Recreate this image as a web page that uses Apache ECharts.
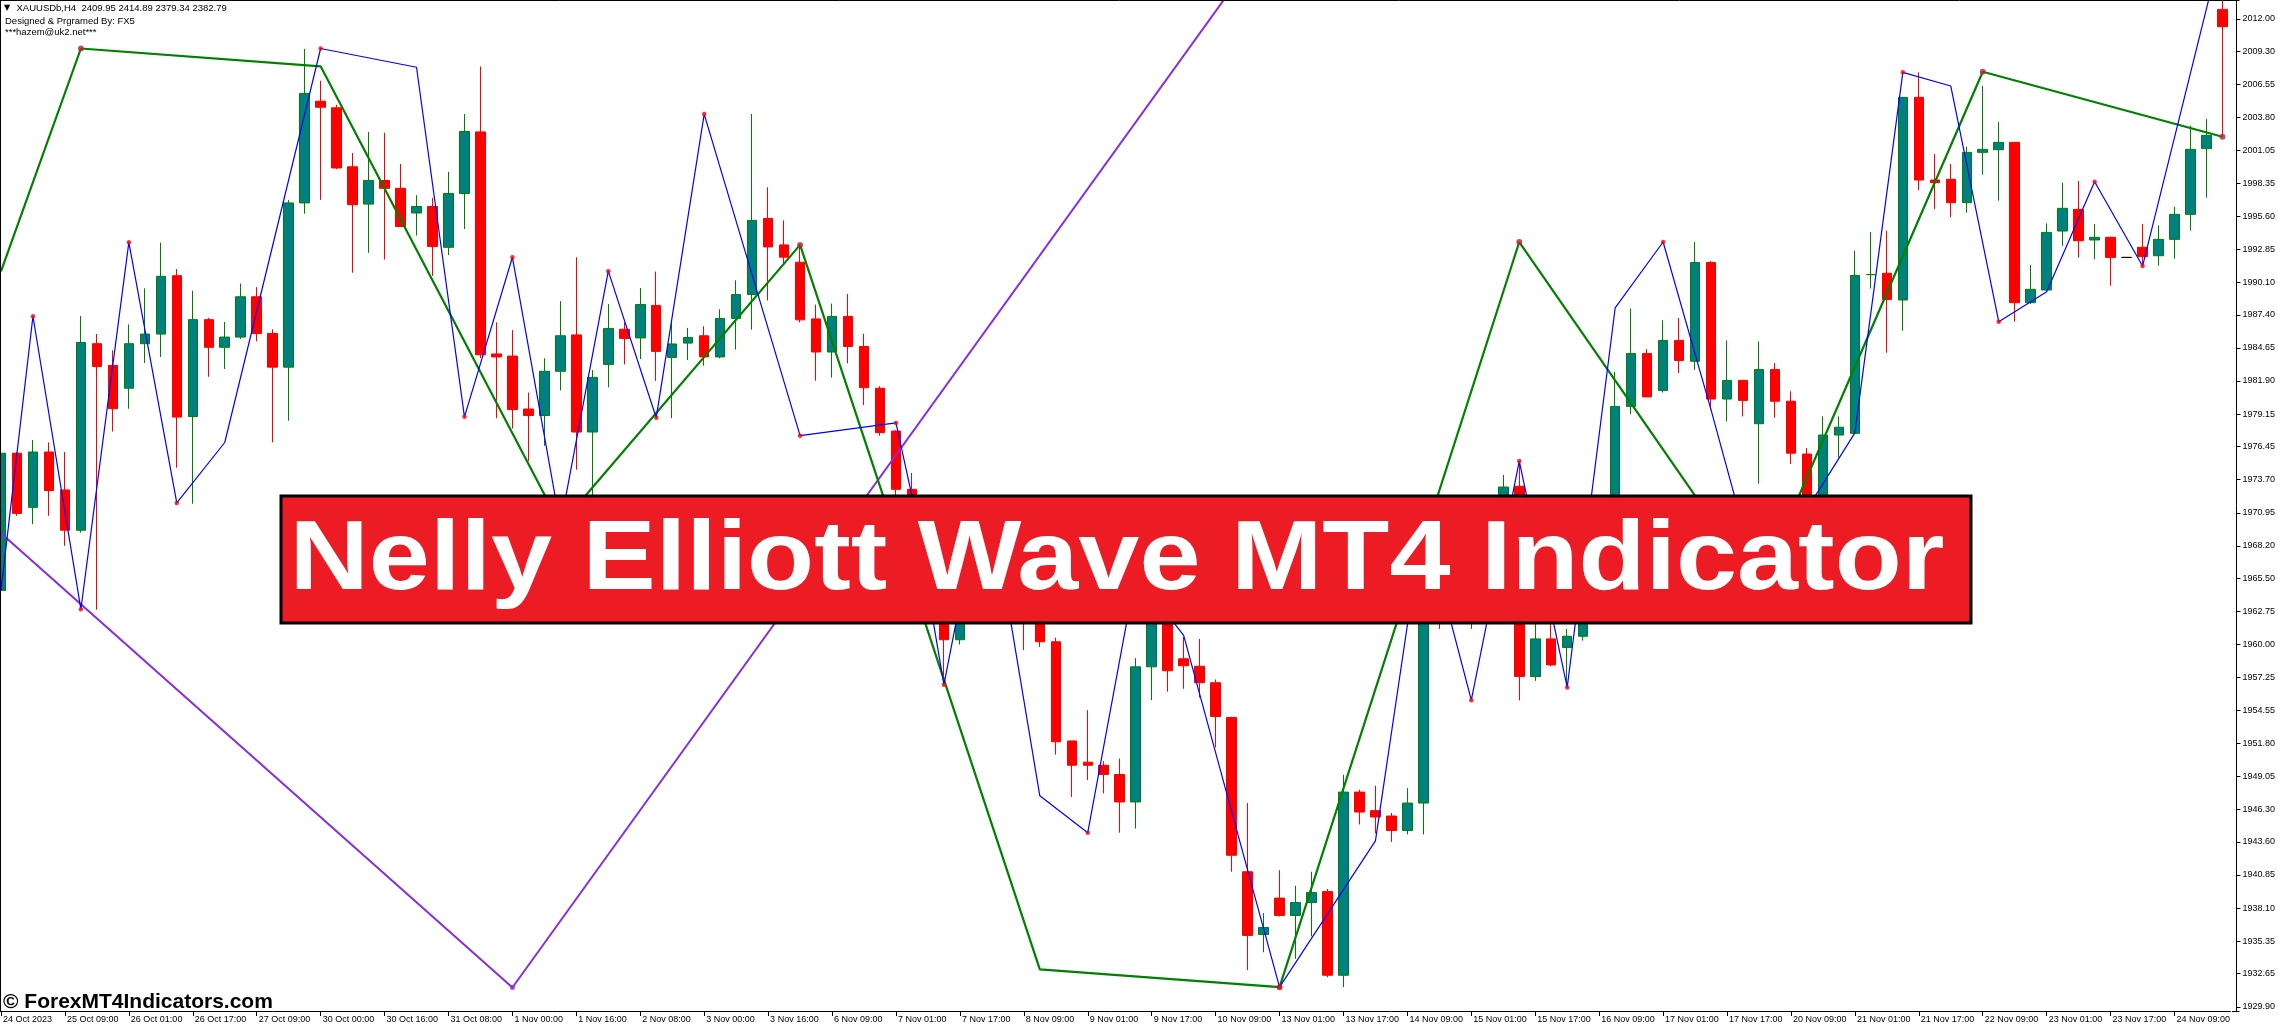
<!DOCTYPE html>
<html><head><meta charset="utf-8">
<script src="https://cdn.jsdelivr.net/npm/echarts@6/dist/echarts.min.js"></script>
<style>html,body{margin:0;padding:0;background:#fff;overflow:hidden;width:2278px;height:1027px;position:relative}#c{position:absolute;left:-7px;top:0;width:2285px;height:1027px}</style>
</head><body><div id="c"></div>
<script>
// ---------- data ----------
const xTickLabels = ['24 Oct 2023','25 Oct 09:00','26 Oct 01:00','26 Oct 17:00','27 Oct 09:00','30 Oct 00:00','30 Oct 16:00','31 Oct 08:00','1 Nov 00:00','1 Nov 16:00','2 Nov 08:00','3 Nov 00:00','3 Nov 16:00','6 Nov 09:00','7 Nov 01:00','7 Nov 17:00','8 Nov 09:00','9 Nov 01:00','9 Nov 17:00','10 Nov 09:00','13 Nov 01:00','13 Nov 17:00','14 Nov 09:00','15 Nov 01:00','15 Nov 17:00','16 Nov 09:00','17 Nov 01:00','17 Nov 17:00','20 Nov 09:00','21 Nov 01:00','21 Nov 17:00','22 Nov 09:00','23 Nov 01:00','23 Nov 17:00','24 Nov 09:00'];
const yTickLabels = ['2012.00','2009.30','2006.55','2003.80','2001.05','1998.35','1995.60','1992.85','1990.10','1987.40','1984.65','1981.90','1979.15','1976.45','1973.70','1970.95','1968.20','1965.50','1962.75','1960.00','1957.25','1954.55','1951.80','1949.05','1946.30','1943.60','1940.85','1938.10','1935.35','1932.65','1929.90'];

const opens = [1964.5,1975.9,1971.4,1976.0,1972.85,1969.5,1985.0,1983.2,1981.3,1985.0,1985.8,1990.65,1978.95,1987.0,1984.7,1985.55,1988.9,1985.85,1983.05,1996.7,2005.15,2004.6,1999.7,1996.6,1998.56,1997.91,1995.86,1996.4,1993.01,1997.48,2002.6,1984.15,1983.97,1979.57,1979.03,1982.71,1985.73,1977.66,1983.28,1986.2,1985.48,1988.18,1983.86,1985.05,1985.66,1983.9,1987.1,1989.08,1995.41,1993.21,1991.77,1987.06,1984.31,1987.27,1984.77,1981.3,1977.74,1972.9,1968.0,1963.5,1960.4,1966.5,1964.5,1967.0,1963.6,1962.0,1960.23,1951.99,1950.23,1949.97,1949.2,1946.92,1958.15,1964.0,1958.82,1958.2,1956.83,1953.94,1941.12,1935.91,1938.93,1937.49,1938.56,1939.47,1932.52,1947.74,1946.2,1945.75,1944.55,1946.83,1966.0,1962.5,1966.0,1963.0,1969.0,1973.16,1957.34,1960.47,1959.75,1960.69,1966.5,1970.5,1979.79,1984.18,1981.12,1985.27,1983.54,1991.75,1980.4,1981.95,1978.35,1982.85,1980.22,1975.83,1968.0,1977.41,1977.55,1990.74,1990.85,1988.63,2005.47,1998.6,1998.66,1996.72,2000.9,2001.12,2001.73,1988.41,1989.46,1994.36,1996.16,1993.62,1993.84,1992.17,1993.01,1992.31,1993.67,1995.75,2001.21,2012.78];
const highs = [1977.6,1976.0,1977.0,1976.8,1976.0,1987.3,1985.8,1984.45,1986.6,1989.6,1993.4,1991.2,1989.4,1987.15,1986.8,1990.0,1989.7,1986.2,1996.95,2009.5,2006.85,2004.85,2000.85,2002.6,2002.53,1999.93,1997.34,1997.12,1999.28,2004.08,2008.04,1986.78,1986.13,1980.94,1983.79,1988.54,1992.18,1982.81,1988.29,1986.78,1989.63,1990.99,1986.74,1986.31,1986.45,1987.86,1990.27,2004.08,1998.0,1995.24,1993.21,1988.25,1988.33,1989.14,1985.83,1981.47,1977.8,1974.26,1969.5,1964.2,1971.0,1969.0,1968.0,1968.5,1966.0,1963.5,1960.57,1952.0,1954.55,1950.31,1950.52,1958.87,1966.0,1965.0,1960.63,1960.47,1957.1,1954.0,1946.83,1937.69,1941.25,1939.96,1941.12,1939.68,1949.18,1947.94,1948.27,1946.0,1948.07,1968.0,1968.5,1967.0,1967.5,1970.0,1974.09,1975.25,1962.5,1962.5,1961.3,1967.5,1971.5,1982.67,1987.93,1984.55,1986.96,1987.14,1993.45,1991.86,1985.27,1982.0,1985.19,1983.39,1981.05,1976.33,1978.96,1978.96,1992.73,1994.27,1994.39,2005.5,2007.55,2000.76,1999.93,2001.37,2006.41,2003.42,2001.73,1991.54,1995.0,1998.38,1998.52,1994.95,1993.9,1992.17,1994.95,1994.83,1996.36,2003.12,2003.67,2015.0];
const lows = [1961.3,1970.7,1970.0,1970.7,1968.2,1969.3,1962.9,1977.7,1979.6,1983.4,1983.9,1974.7,1971.7,1982.25,1982.9,1985.4,1985.2,1976.8,1978.6,1995.8,1996.95,1999.5,1990.9,1992.55,1992.0,1994.74,1993.99,1990.63,1992.36,1994.53,1983.8,1978.81,1977.95,1975.25,1976.51,1981.12,1974.53,1969.9,1981.37,1983.28,1983.72,1981.91,1978.81,1983.64,1983.17,1983.79,1984.51,1986.17,1988.59,1991.64,1986.77,1981.93,1982.19,1983.37,1979.9,1977.36,1972.0,1967.0,1962.5,1956.67,1960.0,1963.5,1962.5,1962.8,1959.55,1959.81,1950.86,1947.34,1948.74,1947.64,1944.37,1944.71,1955.38,1956.09,1956.33,1955.59,1951.46,1941.12,1932.94,1934.43,1937.4,1933.89,1935.75,1932.36,1931.53,1945.05,1944.31,1943.6,1944.22,1944.22,1961.3,1962.0,1961.3,1962.5,1968.0,1955.36,1956.98,1958.2,1956.44,1960.33,1965.0,1969.5,1979.14,1980.58,1980.94,1982.56,1982.82,1979.5,1978.53,1978.96,1973.37,1978.85,1975.0,1964.8,1966.5,1975.54,1977.5,1989.59,1984.25,1986.08,1997.77,1996.19,1995.5,1995.89,1999.04,1996.88,1986.83,1988.3,1989.4,1993.12,1992.15,1992.01,1989.82,1992.17,1991.45,1991.48,1992.06,1994.39,1997.13,2002.2];
const closes = [1975.9,1970.9,1976.0,1972.8,1969.5,1985.1,1983.1,1979.6,1985.0,1985.8,1990.6,1978.9,1987.0,1984.7,1985.55,1988.9,1985.85,1983.05,1996.7,2005.8,2004.65,1999.6,1996.55,1998.57,1997.91,1994.74,1996.4,1993.08,1997.48,2002.63,1984.08,1983.9,1979.53,1979.03,1982.71,1985.66,1977.66,1982.2,1986.27,1985.44,1988.26,1984.36,1984.98,1985.52,1983.9,1987.1,1989.08,1995.25,1993.04,1992.19,1986.98,1984.31,1987.27,1984.77,1981.34,1977.61,1972.9,1968.0,1963.5,1960.4,1966.5,1964.5,1967.0,1963.6,1962.0,1960.23,1951.92,1949.97,1949.97,1949.21,1946.92,1958.15,1964.0,1957.82,1958.24,1956.83,1954.02,1942.49,1935.83,1936.49,1937.49,1938.56,1939.39,1932.52,1947.74,1946.08,1945.67,1944.55,1946.83,1966.0,1962.5,1966.0,1963.0,1969.0,1973.09,1957.34,1960.47,1958.31,1960.69,1966.5,1970.5,1979.79,1984.18,1980.58,1985.27,1983.61,1991.75,1980.4,1981.95,1980.29,1982.85,1980.22,1975.9,1968.0,1977.41,1978.06,1990.67,1990.74,1988.68,2005.47,1998.6,1998.38,1996.72,2000.9,2001.15,2001.73,1988.41,1989.52,1994.25,1996.25,1993.56,1993.84,1992.17,1992.17,1992.23,1993.67,1995.75,2001.15,2002.31,2011.34];
const blackBars = [133];

// zigzag vertices: [bar index, price]
const greenZig = [[0,1991.0],[5,2009.53],[20,2008.05],[35,1969.93],[50,1993.21],[65,1933.01],[80,1931.53],[95,1993.45],[110,1964.7],[124,2007.6],[139,2002.2]];
const greenDots = [5,35,50,80,95,110,124,139];
const blueZig = [[0,1964.5],[2,1987.28],[5,1962.93],[8,1993.42],[11,1971.77],[14,1976.79],[20,2009.53],[26,2007.97],[29,1978.92],[32,1992.18],[35,1969.9],[38,1991.03],[41,1978.85],[44,2004.08],[50,1977.36],[56,1978.42],[57,1972.35],[59,1956.67],[61,1970.3],[62,1971.3],[65,1947.43],[68,1944.37],[71,1965.9],[74,1960.76],[80,1931.53],[86,1943.69],[89,1970.6],[92,1955.38],[95,1975.25],[98,1956.44],[101,1987.97],[104,1993.45],[107,1979.5],[110,1964.9],[116,1977.59],[119,2007.55],[122,2006.41],[125,1986.83],[128,1989.32],[131,1998.46],[134,1991.45],[139,2018.2]];
const blueDots = [2,5,8,11,20,29,32,38,41,44,50,56,59,68,80,92,95,98,104,119,125,131,134];
const purpleZig = [[0,1969.25],[32,1931.5],[80,2020.0]];
const purpleDots = [32];

// ---------- build ----------
const OX = 7; // chart canvas is shifted 7px left of the page
const categories = opens.map((_, i) => i);
const candleData = opens.map((o, i) => {
  const v = [o, closes[i], lows[i], highs[i]];
  if (blackBars.includes(i)) return { value: v, itemStyle: { color: '#000', color0: '#000', borderColor: '#000', borderColor0: '#000' } };
  return v;
});
const pick = (zig, ids) => zig.filter(p => ids.includes(p[0]));

const chart = echarts.init(document.getElementById('c'), null, { renderer: 'canvas' });
const LABEL_FONT = 'Liberation Sans';
chart.setOption({
  animation: false,
  backgroundColor: '#fff',
  grid: { left: 0, top: 0, width: 2240, height: 1011, containLabel: false },
  xAxis: {
    type: 'category', data: categories, boundaryGap: true,
    axisLine: { show: true, lineStyle: { color: '#000', width: 1 } },
    axisTick: { show: true, alignWithLabel: true, interval: 3, length: 5, lineStyle: { color: '#000' } },
    axisLabel: { interval: 3, align: 'left', margin: 4, color: '#000', fontSize: 9, fontFamily: LABEL_FONT, padding: [0, 0, 0, 2],
      formatter: (v, idx) => xTickLabels[idx / 4] || '' },
    splitLine: { show: false }
  },
  yAxis: {
    type: 'value', position: 'right', offset: 6, min: 1929.55, max: 2013.56, scale: true,
    axisLine: { show: true, lineStyle: { color: '#000', width: 1 } },
    axisTick: { show: true, length: 4, customValues: yTickLabels.map(Number), lineStyle: { color: '#000' } },
    axisLabel: { show: true, margin: 6, color: '#000', fontSize: 9, fontFamily: LABEL_FONT,
      customValues: yTickLabels.map(Number), formatter: v => v.toFixed(2) },
    splitLine: { show: false }
  },
  series: [
    { type: 'candlestick', data: candleData, barWidth: 10, z: 2,
      itemStyle: { color: '#008080', color0: '#FF0000', borderColor: '#008000', borderColor0: '#FF0000', borderWidth: 1 } },
    { type: 'line', data: purpleZig, symbol: 'none', z: 3, lineStyle: { color: '#8A2BE2', width: 2 } },
    { type: 'line', data: greenZig, symbol: 'none', z: 4, lineStyle: { color: '#008000', width: 2.2 } },
    { type: 'line', data: blueZig, symbol: 'none', z: 5, lineStyle: { color: '#0000FF', width: 1.2 } },
    { type: 'scatter', data: pick(purpleZig, purpleDots), symbolSize: 5, z: 6, itemStyle: { color: '#8A2BE2' } },
    { type: 'scatter', data: pick(greenZig, greenDots), symbolSize: 6, z: 6, itemStyle: { color: '#B0283A' } },
    { type: 'scatter', data: pick(blueZig, blueDots), symbolSize: 4.5, z: 7, itemStyle: { color: '#FF0000' } }
  ],
  graphic: [
    { type: 'line', z: 50, shape: { x1: OX + 0.5, y1: 0, x2: OX + 0.5, y2: 1011 }, style: { stroke: '#000', lineWidth: 1 } },
    { type: 'line', z: 50, shape: { x1: OX, y1: 0.5, x2: OX + 2239.5, y2: 0.5 }, style: { stroke: '#000', lineWidth: 1 } },
    { type: 'line', z: 50, shape: { x1: OX + 2232, y1: 1011.5, x2: OX + 2239.5, y2: 1011.5 }, style: { stroke: '#000', lineWidth: 1 } },
    { type: 'text', z: 60, x: OX + 4, y: 8, style: { text: '▼', fill: '#000', fontSize: 8, fontFamily: 'DejaVu Sans', verticalAlign: 'middle' } },
    { type: 'text', z: 60, x: OX + 16.5, y: 8, style: { text: 'XAUUSDb,H4  2409.95 2414.89 2379.34 2382.79', fill: '#000', fontSize: 9.5, fontFamily: LABEL_FONT, verticalAlign: 'middle' } },
    { type: 'text', z: 60, x: OX + 5, y: 21.5, style: { text: 'Designed & Prgramed By: FX5', fill: '#000', fontSize: 9.5, fontFamily: LABEL_FONT, verticalAlign: 'middle' } },
    { type: 'text', z: 60, x: OX + 5, y: 32, style: { text: '***hazem@uk2.net***', fill: '#000', fontSize: 9.5, fontFamily: LABEL_FONT, verticalAlign: 'middle' } },
    { type: 'rect', z: 100, shape: { x: OX + 281, y: 496, width: 1690, height: 127 }, style: { fill: '#ED1C24', stroke: '#000', lineWidth: 3 } },
    { type: 'text', z: 101, x: OX + 1117, y: 562, scaleX: 1.12, style: { text: 'Nelly Elliott Wave MT4 Indicator', fill: '#fff', fontSize: 98, fontWeight: 'bold', fontFamily: 'Liberation Sans', align: 'center', verticalAlign: 'middle' } },
    { type: 'text', z: 60, x: OX + 3, y: 1002, style: { text: '© ForexMT4Indicators.com', fill: '#000', fontSize: 21, fontWeight: 'bold', fontFamily: 'Liberation Sans', verticalAlign: 'middle' } }
  ]
});
</script></body></html>
